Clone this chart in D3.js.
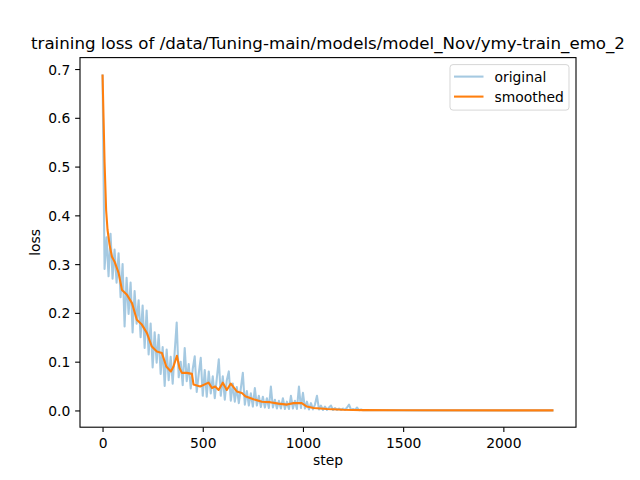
<!DOCTYPE html>
<html>
<head>
<meta charset="utf-8">
<script src="https://cdn.jsdelivr.net/npm/d3@7"></script>
<style>
  body { margin: 0; background: #fff; }
  text { font-family: "DejaVu Sans", sans-serif; fill: #000; }
</style>
</head>
<body>
<svg class="chart"></svg>
<script>
// RAW LOSS, ONE VALUE EVERY 10 STEPS FROM STEP 0 TO 1300
var LOG_INTERVAL = 10;
var originalLoss = [
  0.689, 0.290, 0.355, 0.275, 0.362, 0.270, 0.330, 0.262, 0.322, 0.232,
  0.300, 0.172, 0.272, 0.198, 0.262, 0.160, 0.245, 0.178, 0.226, 0.150,
  0.215, 0.128, 0.205, 0.115, 0.178, 0.088, 0.160, 0.098, 0.155, 0.075,
  0.130, 0.050, 0.125, 0.062, 0.110, 0.055, 0.120, 0.180, 0.068, 0.100,
  0.052, 0.128, 0.060, 0.095, 0.045, 0.085, 0.111, 0.038, 0.075, 0.108,
  0.030, 0.083, 0.028, 0.080, 0.035, 0.070, 0.025, 0.065, 0.105, 0.030,
  0.070, 0.022, 0.062, 0.080, 0.020, 0.055, 0.018, 0.048, 0.015, 0.045,
  0.077, 0.012, 0.040, 0.010, 0.035, 0.008, 0.046, 0.010, 0.030, 0.007,
  0.028, 0.006, 0.025, 0.005, 0.049, 0.006, 0.022, 0.004, 0.020, 0.004,
  0.025, 0.003, 0.018, 0.003, 0.030, 0.004, 0.020, 0.003, 0.049, 0.005,
  0.036, 0.004, 0.018, 0.002, 0.015, 0.002, 0.012, 0.030, 0.002, 0.010,
  0.001, 0.008, 0.001, 0.006, 0.010, 0.001, 0.005, 0.001, 0.004, 0.001,
  0.004, 0.001, 0.006, 0.012, 0.001, 0.003, 0.001, 0.006, 0.0005, 0.002,
  0.0005
];
// FLAT TAIL AFTER STEP 1300
var tailSteps = [1400, 1600, 1800, 2000, 2250];
var tailLoss = [0.0003, 0.0002, 0.0002, 0.0001, 0.0001];

// SMOOTHED CURVE
var smoothedSteps = [0, 5, 10, 18, 25, 35, 47, 60, 80, 97, 122, 147, 171, 196, 221, 246, 271, 296,
  318, 341, 354, 371, 384, 396, 421, 446, 454, 487, 529, 546, 562, 579, 600, 620, 640, 670,
  695, 712, 753, 795, 836, 878, 920, 953, 994, 1019, 1053, 1120, 1200, 1300, 1500, 2250];
var smoothedLoss = [0.689, 0.60, 0.51, 0.41, 0.37, 0.34, 0.315, 0.305, 0.282, 0.247, 0.237, 0.22,
  0.186, 0.176, 0.159, 0.131, 0.121, 0.118, 0.090, 0.080, 0.090, 0.112, 0.087, 0.077, 0.077,
  0.075, 0.053, 0.049, 0.057, 0.046, 0.049, 0.042, 0.057, 0.042, 0.055, 0.039, 0.036, 0.029,
  0.023, 0.018, 0.017, 0.014, 0.012, 0.015, 0.015, 0.008, 0.005, 0.003, 0.0015, 0.0006,
  0.0003, 0.0002];

var xTicks = [0, 500, 1000, 1500, 2000];
var yTicks = [0.0, 0.1, 0.2, 0.3, 0.4, 0.5, 0.6, 0.7];
var legendLabels = ["original", "smoothed"];
var titleText = "training loss of /data/Tuning-main/models/model_Nov/ymy-train_emo_2";

var W = 640, H = 480;
var margin = {top: 57.6, right: 64, bottom: 52.8, left: 80};
var width = W - margin.left - margin.right,
    height = H - margin.top - margin.bottom;
var FS = 13.89;
var LW = 2.08;

// BUILD POINT LISTS
var original = originalLoss.map(function(v, i) { return {step: i * LOG_INTERVAL, loss: v}; })
  .concat(tailSteps.map(function(s, i) { return {step: s, loss: tailLoss[i]}; }));
var smoothed = smoothedSteps.map(function(s, i) { return {step: s, loss: smoothedLoss[i]}; });

var svg = d3.select(".chart").attr("width", W).attr("height", H);
var g = svg.append("g").attr("transform", "translate(" + margin.left + "," + margin.top + ")");

// SCALES WITH 5% PADDING LIKE MATPLOTLIB
var all = original.concat(smoothed);
var xExt = d3.extent(all, function(d) { return d.step; });
var yExt = d3.extent(all, function(d) { return d.loss; });
var xPad = (xExt[1] - xExt[0]) * 0.05, yPad = (yExt[1] - yExt[0]) * 0.05;
var x = d3.scaleLinear().domain([xExt[0] - xPad, xExt[1] + xPad]).range([0, width]);
var y = d3.scaleLinear().domain([yExt[0] - yPad, yExt[1] + yPad]).range([height, 0]);

// LINES
var line = d3.line()
  .x(function(d) { return x(d.step); })
  .y(function(d) { return y(d.loss); });

g.append("path").datum(original)
  .attr("d", line)
  .attr("fill", "none")
  .attr("stroke", "#1f77b4")
  .attr("stroke-opacity", 0.4)
  .attr("stroke-width", LW)
  .attr("stroke-linejoin", "round");

g.append("path").datum(smoothed)
  .attr("d", line)
  .attr("fill", "none")
  .attr("stroke", "#ff7f0e")
  .attr("stroke-width", LW)
  .attr("stroke-linejoin", "round");

// AXES
var xAxis = d3.axisBottom(x).tickValues(xTicks).tickSize(4.86).tickSizeOuter(0).tickPadding(4.86)
  .tickFormat(d3.format("d"));
var yAxis = d3.axisLeft(y).tickValues(yTicks).tickSize(4.86).tickSizeOuter(0).tickPadding(4.86)
  .tickFormat(d3.format(".1f"));

var gx = g.append("g").attr("transform", "translate(0," + height + ")").call(xAxis);
var gy = g.append("g").call(yAxis);
[gx, gy].forEach(function(a) {
  a.select(".domain").remove();
  a.selectAll("line").attr("stroke", "#000").attr("stroke-width", 1.1);
  a.selectAll("text").attr("font-family", "DejaVu Sans").attr("font-size", FS).attr("fill", "#000");
});
gx.selectAll("text").attr("dy", null).attr("y", 21);
gy.selectAll("text").attr("dy", "0.36em");

// FRAME
g.append("rect")
  .attr("width", width).attr("height", height)
  .attr("fill", "none").attr("stroke", "#000").attr("stroke-width", 1.1);

// LABELS
g.append("text")
  .attr("x", width / 2).attr("y", height + 38)
  .attr("text-anchor", "middle").attr("font-size", FS)
  .text("step");

g.append("text")
  .attr("transform", "translate(-40.5," + (height / 2) + ") rotate(-90)")
  .attr("text-anchor", "middle").attr("font-size", FS)
  .text("loss");

g.append("text")
  .attr("x", width / 2).attr("y", -8.3)
  .attr("text-anchor", "middle").attr("font-size", 16.67)
  .text(titleText);

// LEGEND
var legend = g.append("g").attr("transform", "translate(" + (width - 126) + ",7)");
legend.append("rect")
  .attr("width", 119).attr("height", 45.5)
  .attr("rx", 3).attr("ry", 3)
  .attr("fill", "#fff").attr("fill-opacity", 0.8)
  .attr("stroke", "#cccccc").attr("stroke-opacity", 0.8).attr("stroke-width", 1);

var legendColors = ["#1f77b4", "#ff7f0e"];
var legendAlpha = [0.4, 1];
var items = legend.selectAll(".item").data(legendLabels).enter().append("g")
  .attr("class", "item")
  .attr("transform", function(d, i) { return "translate(0," + (12 + i * 20) + ")"; });
items.append("line")
  .attr("x1", 4).attr("x2", 33.5)
  .attr("stroke", function(d, i) { return legendColors[i]; })
  .attr("stroke-opacity", function(d, i) { return legendAlpha[i]; })
  .attr("stroke-width", LW);
items.append("text")
  .attr("x", 44.5).attr("dy", "0.36em")
  .attr("font-size", FS)
  .text(function(d) { return d; });
</script>
</body>
</html>
